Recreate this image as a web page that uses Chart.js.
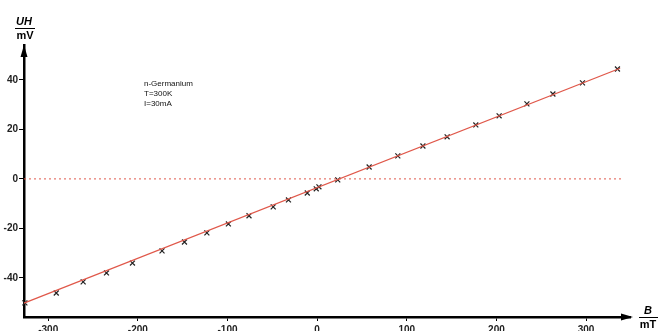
<!DOCTYPE html>
<html>
<head>
<meta charset="utf-8">
<script src="https://cdn.jsdelivr.net/npm/chart.js@4/dist/chart.umd.min.js"></script>
<style>
  html, body { margin: 0; padding: 0; background: #fff; }
  #wrap { width: 666px; height: 331px; position: relative; }
</style>
</head>
<body>
<div id="wrap"><canvas id="hall-chart"></canvas></div>
<script>
// ── Hall voltage vs. magnetic field, n-Germanium ────────────────────────────

// measured points (B in mT, UH in mV)
const fieldB = [-326, -291, -261, -235, -206, -173, -148, -123, -99, -76, -49, -32, -11, -1, 2,
                23, 58, 90, 118, 145, 177, 203, 234, 263, 296, 335];
const hallU  = [-50.1, -46.1, -41.6, -38.0, -34.0, -29.1, -25.5, -21.8, -18.2, -14.9, -11.3, -8.5, -5.7, -4.0, -3.2,
                -0.4, 4.8, 9.3, 13.3, 17.0, 21.8, 25.5, 30.3, 34.3, 38.8, 44.4];

// fitted straight line, end points
const fitB = [-327, 338];
const fitU = [-50.2, 44.7];

// zero reference line
const zeroB = [-327, 339];
const zeroU = [0, 0];

const xTicks = [-300, -200, -100, 0, 100, 200, 300];
const yTicks = [-40, -20, 0, 20, 40];
const infoLines = ['n-Germanium', 'T=300K', 'I=30mA'];

const FONT = '"Liberation Sans Narrow", "Arial Narrow", "Liberation Sans", Arial, sans-serif';
const RED = '#e0584a';

function pairs(xs, ys) { return xs.map((x, i) => ({ x: x, y: ys[i] })); }

// axis arrows, unit labels and the info box
const decorPlugin = {
    id: 'decor',
    afterDraw(chart) {
        const ctx = chart.ctx;
        const a = chart.chartArea;
        ctx.save();
        ctx.fillStyle = '#000';

        // arrow heads
        ctx.beginPath();
        ctx.moveTo(a.left, a.top);
        ctx.lineTo(a.left - 3.5, a.top + 12);
        ctx.lineTo(a.left + 3.5, a.top + 12);
        ctx.closePath();
        ctx.fill();

        ctx.beginPath();
        ctx.moveTo(a.right + 3, a.bottom);
        ctx.lineTo(a.right - 9, a.bottom - 3.5);
        ctx.lineTo(a.right - 9, a.bottom + 3.5);
        ctx.closePath();
        ctx.fill();

        // unit fractions
        ctx.textAlign = 'center';
        ctx.textBaseline = 'middle';
        ctx.lineWidth = 1;
        ctx.strokeStyle = '#000';

        ctx.font = 'italic bold 11px ' + FONT;
        ctx.fillText('UH', 24, 22);
        ctx.beginPath(); ctx.moveTo(15, 28.5); ctx.lineTo(35, 28.5); ctx.stroke();
        ctx.font = 'bold 11px ' + FONT;
        ctx.fillText('mV', 25, 36);

        ctx.font = 'italic bold 11px ' + FONT;
        ctx.fillText('B', 648, 311);
        ctx.beginPath(); ctx.moveTo(639, 317.5); ctx.lineTo(658, 317.5); ctx.stroke();
        ctx.font = 'bold 11px ' + FONT;
        ctx.fillText('mT', 648, 325);

        // sample info
        ctx.textAlign = 'left';
        ctx.fillStyle = '#111';
        ctx.font = '8px ' + FONT;
        infoLines.forEach((t, i) => ctx.fillText(t, 144, 84 + i * 10));
        ctx.restore();
    }
};

new Chart(document.getElementById('hall-chart'), {
    type: 'scatter',
    data: {
        datasets: [
            {
                label: 'zero',
                data: pairs(zeroB, zeroU),
                showLine: true,
                borderColor: RED,
                borderWidth: 1,
                borderDash: [2, 3],
                pointRadius: 0,
                clip: false
            },
            {
                label: 'fit',
                data: pairs(fitB, fitU),
                showLine: true,
                borderColor: RED,
                borderWidth: 1.3,
                pointRadius: 0,
                clip: false
            },
            {
                label: 'measured',
                data: pairs(fieldB, hallU),
                showLine: false,
                pointStyle: 'crossRot',
                pointRadius: 3.5,
                borderColor: '#222',
                borderWidth: 1.2,
                clip: false
            }
        ]
    },
    options: {
        animation: false,
        responsive: true,
        maintainAspectRatio: false,
        layout: { padding: { top: 45, right: 36, left: 0, bottom: 0 } },
        plugins: { legend: { display: false }, tooltip: { enabled: false } },
        scales: {
            x: {
                type: 'linear',
                min: -327,
                max: 349,
                afterFit: s => { s.height = 14; },
                afterBuildTicks: s => { s.ticks = xTicks.map(v => ({ value: v })); },
                grid: { drawOnChartArea: false, drawTicks: true, tickLength: 4, color: '#000', lineWidth: 1 },
                border: { display: true, color: '#000', width: 2.5 },
                ticks: { color: '#222', padding: 3, maxRotation: 0, font: { family: FONT, size: 10, weight: 'bold' } }
            },
            y: {
                type: 'linear',
                min: -55.8,
                max: 54.1,
                afterFit: s => { s.width = 24; },
                afterBuildTicks: s => { s.ticks = yTicks.map(v => ({ value: v })); },
                grid: { drawOnChartArea: false, drawTicks: true, tickLength: 5, color: '#000', lineWidth: 1 },
                border: { display: true, color: '#000', width: 2.5 },
                ticks: { color: '#222', padding: 1, font: { family: FONT, size: 10, weight: 'bold' } }
            }
        }
    },
    plugins: [decorPlugin]
});
</script>
</body>
</html>
